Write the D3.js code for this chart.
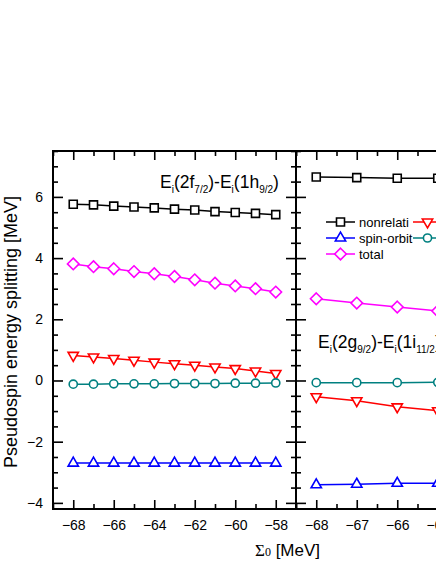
<!DOCTYPE html>
<html><head><meta charset="utf-8">
<script src="https://cdn.jsdelivr.net/npm/d3@7"></script>
<style>body{margin:0;background:#fff}svg{display:block}</style>
</head><body><svg id="c" width="436" height="564"></svg>
<script>
// ---- data ----
const sigmaLeft = [-68,-67,-66,-65,-64,-63,-62,-61,-60,-59,-58];
const nonrelLeft = [5.76,5.74,5.70,5.67,5.64,5.60,5.57,5.52,5.49,5.46,5.42];
const spinOrbitLeft = [-2.70,-2.70,-2.70,-2.70,-2.70,-2.70,-2.70,-2.70,-2.70,-2.70,-2.70];
const totalLeft = [3.81,3.72,3.65,3.56,3.49,3.40,3.29,3.18,3.09,3.00,2.89];
const dynamicalLeft = [0.82,0.77,0.72,0.66,0.60,0.55,0.50,0.44,0.39,0.31,0.23];
const darwinLeft = [-0.12,-0.12,-0.11,-0.11,-0.11,-0.10,-0.10,-0.10,-0.09,-0.09,-0.08];

const sigmaRight = [-68,-67,-66,-65];
const nonrelRight = [6.65,6.63,6.61,6.61];
const spinOrbitRight = [-3.41,-3.39,-3.36,-3.36];
const totalRight = [2.67,2.53,2.40,2.27];
const dynamicalRight = [-0.53,-0.66,-0.86,-0.99];
const darwinRight = [-0.07,-0.07,-0.07,-0.06];

const yMajorTicks = [-4,-2,0,2,4,6];
const leftXMajorTicks = [-68,-66,-64,-62,-60,-58];
const rightXMajorTicks = [-68,-67,-66,-65,-64,-63];
const legendLabels = ["nonrelati","spin-orbit","total","dynamical","Darwin"];

// ---- layout ----
const svg = d3.select("#c");
const yTop = 151, yBottom = 509;
const y = d3.scaleLinear().domain([-4.2,7.5]).range([yBottom, yTop]);
const xL = d3.scaleLinear().domain([-69,-57]).range([53,296]);
const xR = d3.scaleLinear().domain([-68.5,-62.5]).range([296,539]);

const series = [
  {key:"nonrel", color:"#000000", shape:"square"},
  {key:"spin", color:"#0000ff", shape:"up"},
  {key:"total", color:"#ff00ff", shape:"diamond"},
  {key:"dyn", color:"#ff0000", shape:"down"},
  {key:"dar", color:"#008080", shape:"circle"}
];
const leftData = {nonrel:nonrelLeft, spin:spinOrbitLeft, total:totalLeft, dyn:dynamicalLeft, dar:darwinLeft};
const rightData = {nonrel:nonrelRight, spin:spinOrbitRight, total:totalRight, dyn:dynamicalRight, dar:darwinRight};

function markerPath(shape){
  if(shape==="square") return d3.symbol().type(d3.symbolSquare).size(64)();
  if(shape==="up"||shape==="down") return d3.symbol().type(d3.symbolTriangle).size(46)();
  if(shape==="circle") return d3.symbol().type(d3.symbolCircle).size(52)();
  if(shape==="diamond") return "M0,-5.8L5.8,0L0,5.8L-5.8,0Z";
}
function drawMarker(g, shape, color, cx, cy){
  g.append("path").attr("d", markerPath(shape))
   .attr("transform", `translate(${cx},${cy})` + (shape==="down" ? " rotate(180)" : ""))
   .attr("fill","#fff").attr("stroke",color).attr("stroke-width",1.6);
}

const font = "Arial, 'Liberation Sans', sans-serif";

svg.append("defs").append("clipPath").attr("id","clipR")
  .append("rect").attr("x",296).attr("y",yTop).attr("width",243).attr("height",yBottom-yTop);

function panel(x, xs, data, clip){
  const g = svg.append("g");
  if(clip) g.attr("clip-path","url(#clipR)");
  series.forEach(s=>{
    const vals = data[s.key];
    const line = d3.line().x((d,i)=>x(xs[i])).y(d=>y(d));
    g.append("path").datum(vals).attr("d",line).attr("fill","none")
      .attr("stroke",s.color).attr("stroke-width",1.5);
    vals.forEach((v,i)=>drawMarker(g, s.shape, s.color, x(xs[i]), y(v)));
  });
}

function axes(x, x0, x1, xMajor, xMinor, showLeftLabels){
  const tickStyle = sel => { sel.select(".domain").remove();
    sel.selectAll("line").attr("stroke","#000").attr("stroke-width",1.6);
    sel.selectAll("text").attr("font-family",font).attr("font-size",14).attr("fill","#000"); };
  const yMinor = d3.range(-4,7.51,0.5).filter(v=>!yMajorTicks.includes(v));
  svg.append("g").attr("transform",`translate(0,${yBottom})`)
    .call(d3.axisBottom(x).tickValues(xMinor).tickSize(-5).tickFormat("")).call(tickStyle);
  svg.append("g").attr("transform",`translate(0,${yBottom})`)
    .call(d3.axisBottom(x).tickValues(xMajor).tickSize(-9).tickPadding(11).tickFormat(d3.format("d"))).call(tickStyle);
  svg.append("g").attr("transform",`translate(0,${yTop})`)
    .call(d3.axisTop(x).tickValues(xMinor).tickSize(-5).tickFormat("")).call(tickStyle);
  svg.append("g").attr("transform",`translate(0,${yTop})`)
    .call(d3.axisTop(x).tickValues(xMajor).tickSize(-9).tickFormat("")).call(tickStyle);
  svg.append("g").attr("transform",`translate(${x0},0)`)
    .call(d3.axisLeft(y).tickValues(yMinor).tickSize(-5).tickFormat("")).call(tickStyle);
  svg.append("g").attr("transform",`translate(${x0},0)`)
    .call(d3.axisLeft(y).tickValues(yMajorTicks).tickSize(-10).tickPadding(10).tickFormat(showLeftLabels?d3.format("d"):"")).call(tickStyle);
  svg.append("g").attr("transform",`translate(${x1},0)`)
    .call(d3.axisRight(y).tickValues(yMinor).tickSize(-5).tickFormat("")).call(tickStyle);
  svg.append("g").attr("transform",`translate(${x1},0)`)
    .call(d3.axisRight(y).tickValues(yMajorTicks).tickSize(-10).tickFormat("")).call(tickStyle);
  svg.append("rect").attr("x",x0).attr("y",yTop).attr("width",x1-x0).attr("height",yBottom-yTop)
    .attr("fill","none").attr("stroke","#000").attr("stroke-width",2);
}

panel(xL, sigmaLeft, leftData, false);
panel(xR, sigmaRight, rightData, true);
axes(xL, 53, 296, leftXMajorTicks, [-69,-67,-65,-63,-61,-59,-57], true);
axes(xR, 296, 539, rightXMajorTicks, [-68.5,-67.5,-66.5,-65.5,-64.5,-63.5,-62.5], false);

function levelLabel(xp, yp, parts){
  const t = svg.append("text").attr("x",xp).attr("y",yp)
    .attr("font-family",font).attr("font-size",17.5).attr("fill","#000");
  let shift = 0;
  parts.forEach(([txt, sub])=>{
    const target = sub ? 5 : 0;
    t.append("tspan").attr("dy", target-shift).attr("font-size", sub?10:17.5).text(txt);
    shift = target;
  });
}
levelLabel(160, 188, [["E",0],["i",1],["(2f",0],["7/2",1],[")-E",0],["i",1],["(1h",0],["9/2",1],[")",0]]);
levelLabel(318, 348, [["E",0],["i",1],["(2g",0],["9/2",1],[")-E",0],["i",1],["(1i",0],["11/2",1],[")",0]]);

const legendPos = [[326,222],[326,238],[326,254],[413,222],[413,238]];
const legendOrder = ["nonrel","spin","total","dyn","dar"];
legendOrder.forEach((k,i)=>{
  const s = series.find(d=>d.key===k);
  const [lx,ly] = legendPos[i];
  svg.append("line").attr("x1",lx).attr("x2",lx+29).attr("y1",ly).attr("y2",ly)
    .attr("stroke",s.color).attr("stroke-width",1.5);
  drawMarker(svg, s.shape, s.color, lx+14.5, ly);
  svg.append("text").attr("x",lx+33).attr("y",ly+4.5).attr("font-family",font)
    .attr("font-size",13).attr("fill","#000").text(legendLabels[i]);
});

svg.append("text").attr("transform","translate(17,332) rotate(-90)").attr("text-anchor","middle")
  .attr("font-family",font).attr("font-size",18).attr("fill","#000")
  .text("Pseudospin energy splitting [MeV]");
const xt = svg.append("text").attr("x",255).attr("y",556).attr("fill","#000");
xt.append("tspan").attr("font-family","'Liberation Serif','DejaVu Serif',serif").attr("font-size",17).text("Σ");
xt.append("tspan").attr("font-family","'Liberation Serif','DejaVu Serif',serif").attr("font-size",12).text("0");
xt.append("tspan").attr("font-family",font).attr("font-size",17).text(" [MeV]");
</script></body></html>
